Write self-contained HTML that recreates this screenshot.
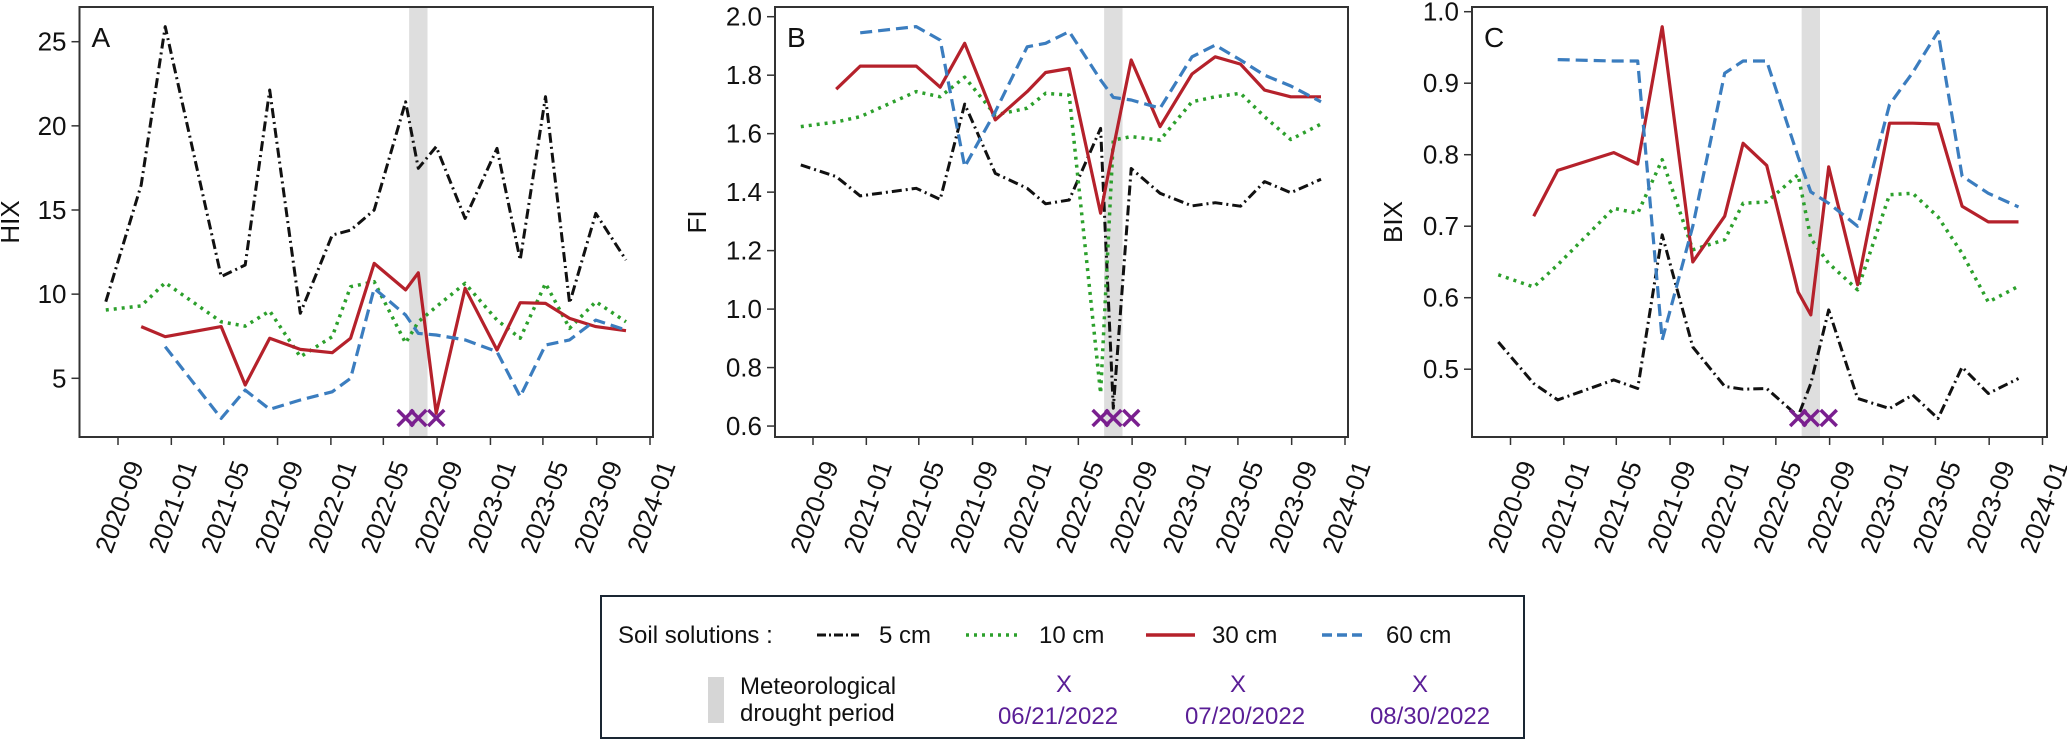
<!DOCTYPE html>
<html><head><meta charset="utf-8"><style>
html,body{margin:0;padding:0;background:#fff;}
svg{display:block;font-family:"Liberation Sans",sans-serif;}
</style></head><body>
<svg id="fig" width="2067" height="740" viewBox="0 0 2067 740" xmlns="http://www.w3.org/2000/svg">
<g id="panels"></g>
<g id="legend">
  <rect x="601" y="596" width="923" height="142" fill="#fff" stroke="#1a2633" stroke-width="2"/>
  <text x="618" y="643" font-size="24" fill="#111">Soil solutions :</text>
  <line x1="817" y1="635" x2="859" y2="635" stroke="#111" stroke-width="3" stroke-dasharray="9,3,2,3"/>
  <text x="879" y="643" font-size="24" fill="#111">5 cm</text>
  <line x1="966" y1="635" x2="1019" y2="635" stroke="#2ca02c" stroke-width="3.5" stroke-dasharray="3,5"/>
  <text x="1039" y="643" font-size="24" fill="#111">10 cm</text>
  <line x1="1146" y1="635" x2="1195" y2="635" stroke="#b5212b" stroke-width="3.5"/>
  <text x="1212" y="643" font-size="24" fill="#111">30 cm</text>
  <line x1="1322" y1="635" x2="1367" y2="635" stroke="#3b7dbf" stroke-width="3.5" stroke-dasharray="10,5"/>
  <text x="1386" y="643" font-size="24" fill="#111">60 cm</text>
  <rect x="708" y="677" width="16" height="46" fill="#d6d6d6"/>
  <text x="740" y="694" font-size="24" fill="#111">Meteorological</text>
  <text x="740" y="721" font-size="24" fill="#111">drought period</text>
  <text x="1064" y="692" font-size="24" fill="#5a1e96" text-anchor="middle">X</text>
  <text x="1058" y="724" font-size="24" fill="#5a1e96" text-anchor="middle">06/21/2022</text>
  <text x="1238" y="692" font-size="24" fill="#5a1e96" text-anchor="middle">X</text>
  <text x="1245" y="724" font-size="24" fill="#5a1e96" text-anchor="middle">07/20/2022</text>
  <text x="1420" y="692" font-size="24" fill="#5a1e96" text-anchor="middle">X</text>
  <text x="1430" y="724" font-size="24" fill="#5a1e96" text-anchor="middle">08/30/2022</text>
</g>
</svg>
<script>
// shared sampling dates
const dates = ["2020-08-04","2020-10-24","2020-12-18","2021-04-25","2021-06-19","2021-08-14","2021-10-23","2022-01-04","2022-02-15","2022-04-10","2022-06-21","2022-07-20","2022-08-30","2022-11-04","2023-01-16","2023-03-10","2023-05-07","2023-07-01","2023-08-30","2023-11-07"];
const tickDates = ["2020-09","2021-01","2021-05","2021-09","2022-01","2022-05","2022-09","2023-01","2023-05","2023-09","2024-01"];
const droughtStart = "2022-06-29";
const droughtEnd = "2022-08-10";
const eventDates = ["2022-06-21","2022-07-20","2022-08-30"];
// Panel A (HIX)
const hix5  = [9.55,16.49,25.9,11.04,11.73,22.13,8.86,13.51,13.8,15.0,21.43,17.48,18.76,14.5,18.66,12.03,21.73,9.46,14.8,12.03];
const hix10 = [9.06,9.3,10.68,8.36,8.1,9.0,6.28,7.47,10.44,10.74,7.1,8.36,9.25,10.64,8.46,7.38,10.64,7.97,9.55,8.36];
const hix30 = [null,8.07,7.47,8.07,4.6,7.38,6.72,6.52,7.38,11.83,10.25,11.27,2.92,10.35,6.68,9.49,9.45,8.56,8.07,7.83];
const hix60 = [null,null,6.88,2.62,4.3,3.16,3.71,4.2,5.0,10.35,8.76,7.67,7.57,7.28,6.58,3.91,6.98,7.28,8.46,7.87];
const hixTicks = [5,10,15,20,25];
// Panel B (FI)
const fi5  = [1.493,1.453,1.387,1.413,1.375,1.701,1.464,1.413,1.36,1.373,1.618,0.661,1.481,1.396,1.353,1.364,1.352,1.436,1.398,1.444];
const fi10 = [1.624,1.64,1.658,1.744,1.726,1.793,1.664,1.687,1.738,1.732,0.712,1.578,1.59,1.578,1.709,1.726,1.738,1.658,1.58,1.633];
const fi30 = [null,1.752,1.831,1.831,1.759,1.909,1.647,1.744,1.809,1.823,1.328,1.55,1.852,1.624,1.804,1.863,1.838,1.749,1.726,1.726];
const fi60 = [null,null,1.945,1.966,1.92,1.487,1.675,1.897,1.909,1.949,1.784,1.724,1.715,1.687,1.863,1.903,1.852,1.80,1.763,1.709];
const fiTicks = ["0.6","0.8","1.0","1.2","1.4","1.6","1.8","2.0"];
// Panel C (BIX)
const bix5  = [0.538,0.48,0.457,0.485,0.473,0.688,0.531,0.476,0.472,0.473,0.434,0.48,0.583,0.459,0.445,0.464,0.431,0.503,0.466,0.487];
const bix10 = [0.632,0.615,0.646,0.725,0.718,0.793,0.667,0.681,0.732,0.734,0.772,0.683,0.648,0.611,0.744,0.746,0.713,0.662,0.594,0.616];
const bix30 = [null,0.714,0.778,0.803,0.787,0.979,0.65,0.714,0.816,0.785,0.608,0.576,0.783,0.618,0.844,0.844,0.843,0.728,0.706,0.706];
const bix60 = [null,null,0.933,0.931,0.931,0.541,0.70,0.914,0.931,0.931,0.797,0.748,0.732,0.70,0.87,0.915,0.972,0.77,0.746,0.727];
const bixTicks = ["0.5","0.6","0.7","0.8","0.9","1.0"];

const NS = "http://www.w3.org/2000/svg";
function mk(tag, attrs, parent){ const e=document.createElementNS(NS,tag); for(const k in attrs) e.setAttribute(k,attrs[k]); parent.appendChild(e); return e; }
function days(s){ const p=s.split("-").map(Number); return Date.UTC(p[0],p[1]-1,p[2]||1)/86400000; }
const D0 = days("2020-09-01"), D1 = days("2024-01-01");

const styles = [
  {key:"5cm", color:"#111", w:3, dash:"10,4,2,4"},
  {key:"10cm", color:"#2ca02c", w:3.5, dash:"3,5"},
  {key:"30cm", color:"#b5212b", w:3.2, dash:""},
  {key:"60cm", color:"#3b7dbf", w:3.2, dash:"12,6"}
];

const panels = [
  {id:"a", letter:"A", title:"HIX", left:79.5, right:653, off:0, y0:41.7, v0:25, ppu:16.83, ticks:hixTicks, series:[hix5,hix10,hix30,hix60], titleX:10},
  {id:"b", letter:"B", title:"FI", left:775, right:1348, off:695, y0:16.7, v0:2.0, ppu:292.4, ticks:fiTicks, series:[fi5,fi10,fi30,fi60], titleX:697},
  {id:"c", letter:"C", title:"BIX", left:1472, right:2047, off:1392.5, y0:11.7, v0:1.0, ppu:715, ticks:bixTicks, series:[bix5,bix10,bix30,bix60], titleX:1393}
];
const TOP=7, BOT=437;
const root = document.getElementById("panels");

panels.forEach(p=>{
  const g = mk("g",{},root);
  
  
  const xs = d => p.off + 118 + (days(d)-D0)/(D1-D0)*532;
  const ys = v => p.y0 + (p.v0 - v)*p.ppu;
  // drought band
  const band = mk("rect",{x:xs(droughtStart), y:TOP+1, width:xs(droughtEnd)-xs(droughtStart), height:BOT-TOP-1, fill:"#dedede"},g);
  
  
  // series
  p.series.forEach((vals,si)=>{
    const st = styles[si];
    let d=""; let pen=false;
    vals.forEach((v,i)=>{
      if(v===null||v===undefined){pen=false;return;}
      d += (pen?"L":"M")+xs(dates[i]).toFixed(1)+","+ys(v).toFixed(1)+" "; pen=true;
    });
    const path = mk("path",{d:d, fill:"none", stroke:st.color, "stroke-width":st.w, "stroke-linejoin":"round", "stroke-dasharray":st.dash},g);
    
    
  });
  // event markers
  eventDates.forEach((ed,i)=>{
    const cx = xs(ed), cy = 418;
    const m = mk("path",{d:`M${cx-8},${cy-8}L${cx+8},${cy+8}M${cx-8},${cy+8}L${cx+8},${cy-8}`, stroke:"#7a1f8f", "stroke-width":3.5, fill:"none"},g);
    
    
  });
  // frame
  const fr = mk("rect",{x:p.left, y:TOP, width:p.right-p.left, height:BOT-TOP, fill:"none", stroke:"#333", "stroke-width":2},g);
  
  
  // y ticks
  p.ticks.forEach(t=>{
    const y = ys(parseFloat(t));
    mk("line",{x1:p.left-8, x2:p.left, y1:y, y2:y, stroke:"#333", "stroke-width":1.5},g);
    const tx = mk("text",{x:p.left-13, y:y+9, "font-size":26, "text-anchor":"end", fill:"#111"},g);
    tx.textContent = t;
    
    
  });
  // x ticks
  tickDates.forEach(t=>{
    const x = xs(t);
    mk("line",{x1:x, x2:x, y1:BOT, y2:BOT+8, stroke:"#333", "stroke-width":1.5},g);
    const tx = mk("text",{x:0, y:0, "font-size":26, "text-anchor":"end", fill:"#111", transform:`translate(${x+26},${465}) rotate(-70)`},g);
    tx.textContent = t;
    
    
  });
  // y-axis title
  const yt = mk("text",{x:0, y:0, "font-size":26, "text-anchor":"middle", fill:"#111", transform:`translate(${p.titleX+9},222) rotate(-90)`},g);
  yt.textContent = p.title;
  
  
  // panel letter
  const lt = mk("text",{x:p.left+12, y:47, "font-size":28, fill:"#111"},g);
  lt.textContent = p.letter;
  
  
});
</script>
</body></html>
